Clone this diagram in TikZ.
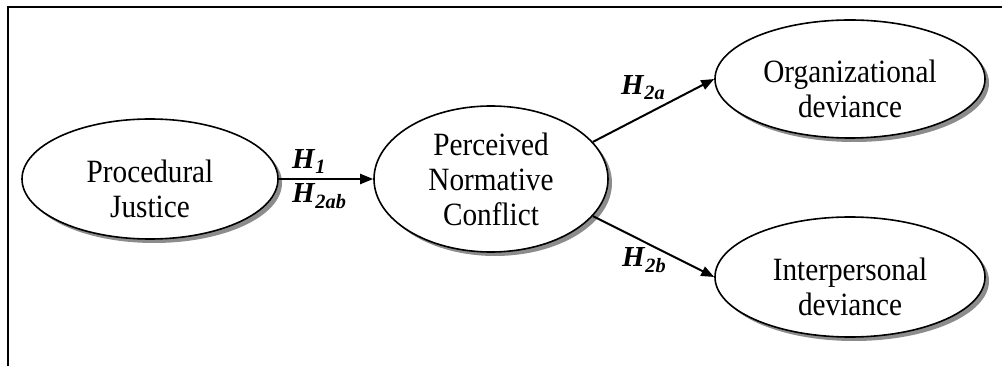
\documentclass[tikz,border=0pt]{standalone}
\usepackage{fontspec}
\setmainfont{Liberation Serif}[FakeStretch=0.9]
\newfontfamily\hypfont{Liberation Serif}
\usepackage{tikz}
\usetikzlibrary{arrows.meta,positioning,shapes.geometric,shadows}

\newcommand{\hyp}[1]{\textbf{\textit{H}}\textsubscript{\textbf{\textit{#1}}}}
\newcommand{\lowstrut}{\rule{0pt}{42pt}}

\begin{document}
\begin{tikzpicture}[
    x=1pt, y=-1pt,
    construct/.style={
        ellipse, draw=black, line width=1.6pt, fill=white, inner sep=0pt,
        align=center, font=\fontsize{32.5}{35}\selectfont,
        drop shadow={shadow xshift=4pt, shadow yshift=-4pt, fill=black!45, opacity=1}
    },
    path arrow/.style={-{Triangle[length=13pt, width=10pt]}, line width=2pt},
    hyplabel/.style={inner sep=0pt, anchor=base west, font=\hypfont\fontsize{29}{32}\selectfont}
]
\useasboundingbox (0,0) rectangle (1002,366);
\draw[line width=2pt] (8,366) |- (1002,7);

\node[construct, minimum width=256pt, minimum height=120pt] (pj) at (150,179) {\lowstrut Procedural\\Justice};
\node[construct, minimum width=234pt, minimum height=146pt] (pnc) at (491,179) {Perceived\\Normative\\Conflict};
\node[construct, minimum width=270pt, minimum height=118pt] (od) at (850,79) {\lowstrut Organizational\\deviance};
\node[construct, minimum width=270pt, minimum height=120pt] (ip) at (850,277) {\lowstrut Interpersonal\\deviance};

\draw[path arrow] (pj.east) -- (pnc.west);
\draw[path arrow] (pnc.20) -- (od.west);
\draw[path arrow] (pnc.-20) -- (ip.west);

\node[hyplabel] (h1) at (292,169) {\hyp{1}};
\node[hyplabel] (h2ab) at (292,203) {\hyp{2ab}};
\node[hyplabel] (h2a) at (621,95) {\hyp{2a}};
\node[hyplabel] (h2b) at (622,267) {\hyp{2b}};
\end{tikzpicture}
\end{document}
